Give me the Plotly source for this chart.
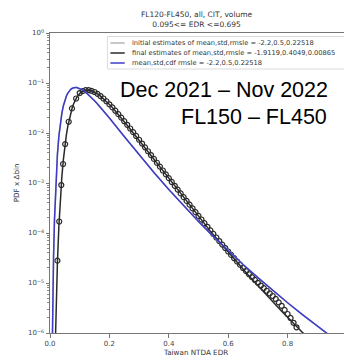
import plotly.graph_objects as go

# ---------------- data ----------------
# blue: mean,std,cdf fit (same as the initial estimate, drawn in gray underneath)
edr_blue = [0.007, 0.008, 0.010, 0.012, 0.015, 0.020, 0.025, 0.030, 0.035, 0.040,
            0.045, 0.050, 0.055, 0.060, 0.065, 0.070, 0.075, 0.080, 0.085, 0.090,
            0.10, 0.11, 0.12, 0.13, 0.14, 0.15, 0.16, 0.18, 0.20, 0.25,
            0.30, 0.35, 0.40, 0.45, 0.50, 0.55, 0.60, 0.65, 0.70, 0.75,
            0.80, 0.85, 0.90, 0.95]
pdf_blue = [2.7e-7, 1.0e-6, 7.5e-6, 3.4e-5, 1.79e-4, 1.135e-3, 3.79e-3, 8.75e-3, 0.0160, 0.0250,
            0.0350, 0.0450, 0.0544, 0.0627, 0.0695, 0.0748, 0.0784, 0.0807, 0.0816, 0.0813,
            0.0781, 0.0725, 0.0657, 0.0583, 0.0511, 0.0443, 0.0381, 0.0277, 0.0199, 8.49e-3,
            3.66e-3, 1.62e-3, 7.39e-4, 3.49e-4, 1.70e-4, 8.55e-5, 4.42e-5, 2.35e-5, 1.28e-5, 7.09e-6,
            4.02e-6, 2.33e-6, 1.37e-6, 8.2e-7]

# black: final estimates fit
edr_black = [0.017, 0.020, 0.025, 0.030, 0.035, 0.040, 0.045, 0.050, 0.055, 0.060,
             0.065, 0.070, 0.075, 0.080, 0.085, 0.090,
             0.10, 0.11, 0.12, 0.13, 0.14, 0.15, 0.16, 0.17, 0.18, 0.19,
             0.20, 0.21, 0.22, 0.23, 0.24, 0.25, 0.26, 0.27, 0.28, 0.29,
             0.30, 0.31, 0.32, 0.33, 0.34, 0.35, 0.36, 0.37, 0.38, 0.39,
             0.40, 0.41, 0.42, 0.43, 0.44, 0.45, 0.46, 0.47, 0.48, 0.49,
             0.50, 0.51, 0.52, 0.53, 0.54, 0.55, 0.56, 0.57, 0.58, 0.59,
             0.60, 0.61, 0.62, 0.63, 0.64, 0.65, 0.66, 0.67, 0.68, 0.69,
             0.70, 0.71, 0.72, 0.73, 0.74, 0.75, 0.76, 0.77, 0.78, 0.79,
             0.80, 0.81, 0.82, 0.83, 0.84, 0.85, 0.86]
pdf_black = [3.7e-7, 2.47e-6, 2.59e-5, 1.406e-4, 5.02e-4, 1.345e-3, 2.93e-3, 5.48e-3, 9.10e-3, 0.01377,
             0.01936, 0.02562, 0.03228, 0.03903, 0.0456, 0.0517,
             0.06185, 0.06864, 0.07192, 0.07208, 0.06975, 0.06566, 0.06042, 0.05461, 0.04862, 0.04278,
             0.03727, 0.03221, 0.02764, 0.02359, 0.02005, 0.01697, 0.01432, 0.01206, 0.010132, 8.502e-3,
             7.123e-3, 5.964e-3, 4.990e-3, 4.174e-3, 3.489e-3, 2.918e-3, 2.441e-3, 2.042e-3, 1.709e-3, 1.430e-3,
             1.198e-3, 1.0045e-3, 8.427e-4, 7.072e-4, 5.939e-4, 4.994e-4, 4.201e-4, 3.538e-4, 2.982e-4, 2.516e-4,
             2.125e-4, 1.796e-4, 1.519e-4, 1.286e-4, 1.090e-4, 9.25e-5, 7.855e-5, 6.676e-5, 5.681e-5, 4.837e-5,
             4.124e-5, 3.519e-5, 3.006e-5, 2.570e-5, 2.199e-5, 1.884e-5, 1.615e-5, 1.386e-5, 1.191e-5, 1.0235e-5,
             8.811e-6, 7.585e-6, 6.540e-6, 5.642e-6, 4.871e-6, 4.210e-6, 3.641e-6, 3.153e-6, 2.734e-6, 2.369e-6,
             2.056e-6, 1.786e-6, 1.553e-6, 1.351e-6, 1.176e-6, 1.027e-6, 8.93e-7]

# observed histogram (open circles)
edr_obs = [0.025, 0.031, 0.038, 0.044, 0.051, 0.063, 0.074, 0.088,
           0.10, 0.11, 0.12, 0.13, 0.14, 0.15, 0.16, 0.17, 0.18, 0.19,
           0.20, 0.21, 0.22, 0.23, 0.24, 0.25, 0.26, 0.27, 0.28, 0.29,
           0.30, 0.31, 0.32, 0.33, 0.34, 0.35, 0.36, 0.37, 0.38, 0.39,
           0.40, 0.41, 0.42, 0.43, 0.44, 0.45, 0.46, 0.47, 0.48, 0.49,
           0.50, 0.51, 0.52, 0.53, 0.54, 0.55, 0.56, 0.57, 0.58, 0.59,
           0.60, 0.61, 0.62, 0.63, 0.64, 0.65, 0.66, 0.67, 0.68, 0.69,
           0.70, 0.71, 0.72, 0.73, 0.74, 0.75, 0.76, 0.77, 0.78, 0.79,
           0.80, 0.81, 0.82, 0.83]
pdf_obs = [2.8e-5, 1.7e-4, 9.1e-4, 2.4e-3, 6.0e-3, 0.0168, 0.031, 0.049,
           0.0630, 0.0690, 0.0722, 0.0718, 0.0695, 0.0660, 0.0607, 0.0548, 0.0490, 0.0432,
           0.0375, 0.0325, 0.0279, 0.0238, 0.0203, 0.0172, 0.0146, 0.0123, 0.0104, 8.72e-3,
           7.33e-3, 6.15e-3, 5.16e-3, 4.32e-3, 3.62e-3, 3.03e-3, 2.54e-3, 2.13e-3, 1.78e-3, 1.49e-3,
           1.25e-3, 1.05e-3, 8.80e-4, 7.38e-4, 6.20e-4, 5.21e-4, 4.38e-4, 3.69e-4, 3.10e-4, 2.61e-4,
           2.20e-4, 1.86e-4, 1.57e-4, 1.33e-4, 1.13e-4, 9.57e-5, 8.12e-5, 6.90e-5, 5.87e-5, 5.00e-5,
           4.27e-5, 3.65e-5, 3.13e-5, 2.69e-5, 2.32e-5, 2.00e-5, 1.73e-5, 1.50e-5, 1.31e-5, 1.15e-5,
           1.01e-5, 8.9e-6, 7.9e-6, 7.0e-6, 6.2e-6, 5.5e-6, 4.8e-6, 4.1e-6, 3.5e-6, 2.9e-6,
           2.4e-6, 2.0e-6, 1.6e-6, 1.3e-6]

legend_labels = [
    "initial estimates of mean,std,rmsle = -2.2,0.5,0.22518",
    "final estimates of mean,std,rmsle = -1.9119,0.4049,0.00865",
    "mean,std,cdf rmsle = -2.2,0.5,0.22518",
]
title_lines = ["FL120-FL450, all, CIT, volume", "0.095<= EDR <=0.695"]
x_title = "Taiwan NTDA EDR"
y_title = "PDF x \u0394bin"
x_tick_vals = [0.0, 0.2, 0.4, 0.6, 0.8, 1.0]
x_tick_text = ["0.0", "0.2", "0.4", "0.6", "0.8", "1."]   # last label is cut by the picture edge
y_tick_vals = [1e-6, 1e-5, 1e-4, 1e-3, 1e-2, 1e-1, 1e0]
y_tick_text = ["10<sup>\u22126</sup>", "10<sup>\u22125</sup>", "10<sup>\u22124</sup>",
               "10<sup>\u22123</sup>", "10<sup>\u22122</sup>", "10<sup>\u22121</sup>", "10<sup>0</sup>"]
overlay_lines = ["Dec 2021 \u2013 Nov 2022", "FL150 \u2013 FL450"]

# ---------------- styles / geometry ----------------
GRAY = "#b4b4b4"
BLACK = "#2a2a2a"
BLUE = "#3c3cc8"
TICK_FONT = dict(family="DejaVu Sans", size=7, color="#444444")

OFF = 8                      # page body margin of the html page
W, H = 352 - OFF, 359 - OFF
L, T = 50 - OFF, 33 - OFF
PW, PH = 300, 300
R, B = W - L - PW, H - T - PH


def px_x(p):                 # page pixel -> paper coordinate
    return (p - OFF - L) / PW


def px_y(p):
    return (T + PH - (p - OFF)) / PH


fig = go.Figure()
fig.add_trace(go.Scatter(x=edr_obs, y=pdf_obs, mode="markers",
                         marker=dict(symbol="circle-open", size=5, color=BLACK, line=dict(width=1.2)),
                         showlegend=False, hoverinfo="skip"))
fig.add_trace(go.Scatter(x=edr_blue, y=pdf_blue, mode="lines", line=dict(color=GRAY, width=1.5),
                         name=legend_labels[0], showlegend=False))
fig.add_trace(go.Scatter(x=edr_black, y=pdf_black, mode="lines", line=dict(color=BLACK, width=1.5),
                         name=legend_labels[1], showlegend=False))
fig.add_trace(go.Scatter(x=edr_blue, y=pdf_blue, mode="lines", line=dict(color=BLUE, width=1.5),
                         name=legend_labels[2], showlegend=False))

axis_common = dict(showline=True, linecolor="#777777", linewidth=1, mirror=True,
                   ticks="outside", ticklen=3.5, tickwidth=0.8, tickcolor="#777777",
                   showgrid=False, zeroline=False, tickfont=TICK_FONT)

fig.update_xaxes(range=[0, 1.0], tickmode="array", tickvals=x_tick_vals, ticktext=x_tick_text,
                 ticklabeloverflow="allow", **axis_common)
fig.update_yaxes(type="log", range=[-6, 0], tickmode="array", tickvals=y_tick_vals,
                 ticktext=y_tick_text,
                 minor=dict(ticks="outside", ticklen=2, tickwidth=0.6, tickcolor="#888888",
                            dtick="D1", showgrid=False),
                 **axis_common)

annotations = [
    dict(text="<br>".join(title_lines), xref="paper", yref="paper", x=px_x(198), y=1.0,
         xanchor="center", yanchor="bottom", yshift=2, showarrow=False,
         font=dict(family="DejaVu Sans", size=7.5, color="#333333")),
    dict(text=x_title, xref="paper", yref="paper", x=px_x(197), y=px_y(352),
         xanchor="center", yanchor="middle", showarrow=False,
         font=dict(family="DejaVu Sans", size=7.2, color="#333333")),
    dict(text=y_title, xref="paper", yref="paper", x=px_x(16), y=0.5, textangle=-90,
         xanchor="center", yanchor="middle", showarrow=False,
         font=dict(family="DejaVu Sans", size=7.2, color="#333333")),
    dict(text=overlay_lines[0], xref="paper", yref="paper", x=px_x(333), y=px_y(90),
         xanchor="right", yanchor="middle", showarrow=False,
         font=dict(family="Liberation Sans", size=21.5, color="#000000")),
    dict(text=overlay_lines[1], xref="paper", yref="paper", x=px_x(332), y=px_y(117),
         xanchor="right", yanchor="middle", showarrow=False,
         font=dict(family="Liberation Sans", size=21.5, color="#000000")),
]

# hand-drawn legend (compact rows like the matplotlib original)
shapes = [dict(type="rect", xref="paper", yref="paper", x0=px_x(108), x1=px_x(347.5),
               y0=px_y(69), y1=px_y(36.5), line=dict(color="#d0d0d0", width=0.8),
               fillcolor="rgba(255,255,255,0.85)", layer="above")]
leg_colors = [GRAY, BLACK, BLUE]
for i, (lab, col) in enumerate(zip(legend_labels, leg_colors)):
    yy = px_y(43 + 10 * i)
    shapes.append(dict(type="line", xref="paper", yref="paper", x0=px_x(111), x1=px_x(125.5),
                       y0=yy, y1=yy, line=dict(color=col, width=1.5), layer="above"))
    annotations.append(dict(text=lab, xref="paper", yref="paper", x=px_x(131), y=yy,
                            xanchor="left", yanchor="middle", showarrow=False,
                            font=dict(family="DejaVu Sans", size=6.7, color="#333333")))

fig.update_layout(width=W, height=H, margin=dict(l=L, r=R, t=T, b=B),
                  paper_bgcolor="white", plot_bgcolor="white", showlegend=False,
                  annotations=annotations, shapes=shapes)

fig.write_html("out.html")
